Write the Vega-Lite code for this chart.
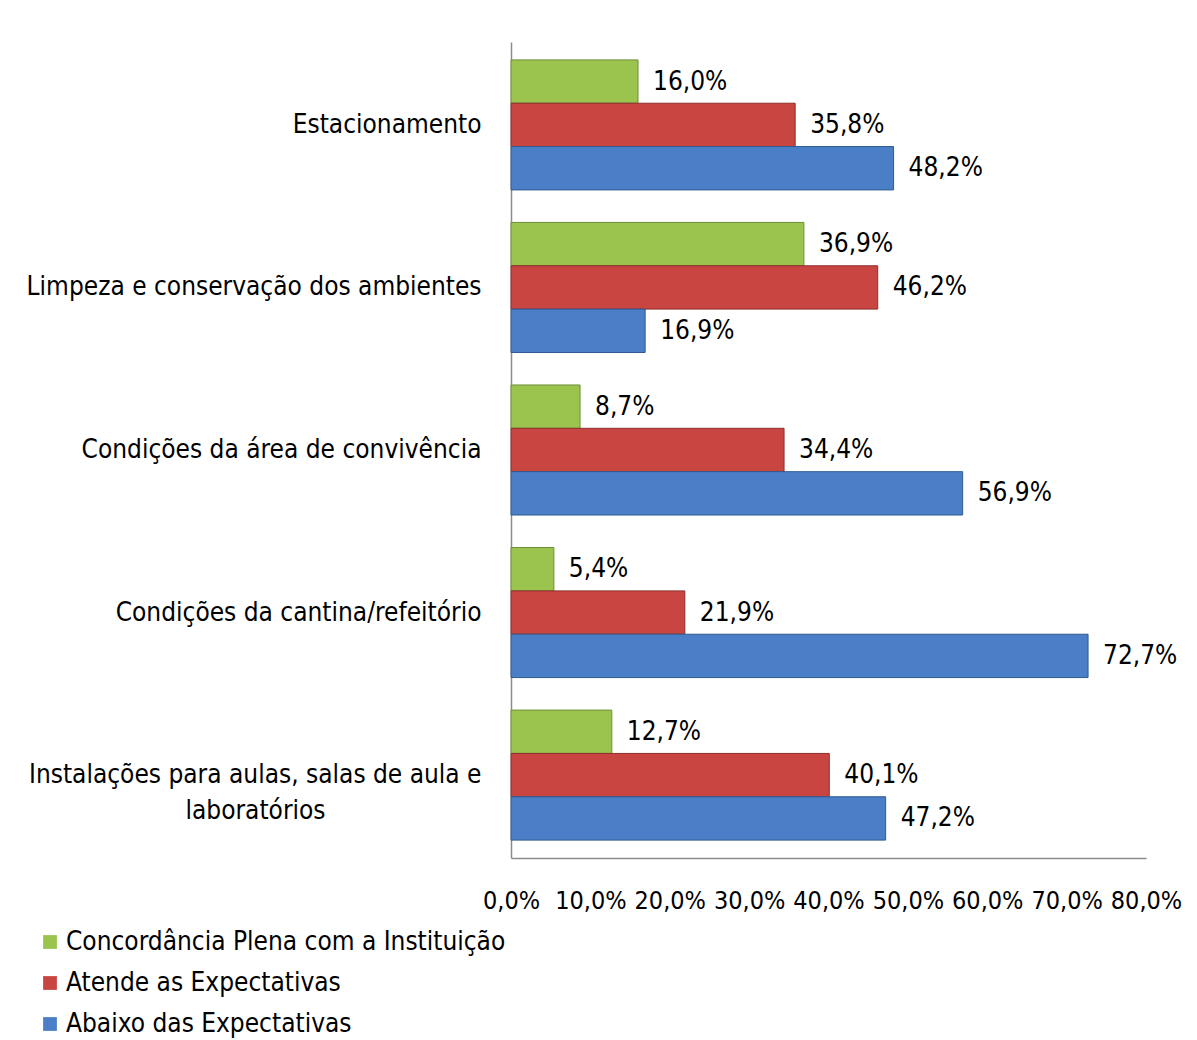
{
  "$schema": "https://vega.github.io/schema/vega-lite/v6.json",
  "width": 635,
  "height": 816,
  "autosize": {"type": "none"},
  "padding": {"left": 511, "top": 42, "right": 51, "bottom": 182},
  "background": "white",
  "config": {
    "locale": {"number": {"decimal": ",", "thousands": ".", "grouping": [3], "currency": ["R$", ""]}},
    "view": {"stroke": null},
    "axis": {"labelOverlap": false},
    "font": "Liberation Sans Narrow, DejaVu Sans Condensed, Arial Narrow, sans-serif"
  },
  "data": {
    "values": [
      {"categoria": "Estacionamento", "serie": "Concordância Plena com a Instituição", "valor": 0.160},
      {"categoria": "Estacionamento", "serie": "Atende as Expectativas", "valor": 0.358},
      {"categoria": "Estacionamento", "serie": "Abaixo das Expectativas", "valor": 0.482},
      {"categoria": "Limpeza e conservação dos ambientes", "serie": "Concordância Plena com a Instituição", "valor": 0.369},
      {"categoria": "Limpeza e conservação dos ambientes", "serie": "Atende as Expectativas", "valor": 0.462},
      {"categoria": "Limpeza e conservação dos ambientes", "serie": "Abaixo das Expectativas", "valor": 0.169},
      {"categoria": "Condições da área de convivência", "serie": "Concordância Plena com a Instituição", "valor": 0.087},
      {"categoria": "Condições da área de convivência", "serie": "Atende as Expectativas", "valor": 0.344},
      {"categoria": "Condições da área de convivência", "serie": "Abaixo das Expectativas", "valor": 0.569},
      {"categoria": "Condições da cantina/refeitório", "serie": "Concordância Plena com a Instituição", "valor": 0.054},
      {"categoria": "Condições da cantina/refeitório", "serie": "Atende as Expectativas", "valor": 0.219},
      {"categoria": "Condições da cantina/refeitório", "serie": "Abaixo das Expectativas", "valor": 0.727},
      {"categoria": "Instalações para aulas, salas de aula e laboratórios", "serie": "Concordância Plena com a Instituição", "valor": 0.127},
      {"categoria": "Instalações para aulas, salas de aula e laboratórios", "serie": "Atende as Expectativas", "valor": 0.401},
      {"categoria": "Instalações para aulas, salas de aula e laboratórios", "serie": "Abaixo das Expectativas", "valor": 0.472}
    ]
  },
  "encoding": {
    "y": {
      "field": "categoria",
      "type": "nominal",
      "sort": null,
      "scale": {"paddingInner": 0.2, "paddingOuter": 0.11},
      "axis": {
        "title": null,
        "ticks": false,
        "domainColor": "#8c8c8c",
        "domainWidth": 1.5,
        "labelFontSize": 26,
        "labelColor": "#000000",
        "labelPadding": 30,
        "labelLimit": 600,
        "labelExpr": "datum.value == 'Instalações para aulas, salas de aula e laboratórios' ? ['Instalações para aulas, salas de aula e', 'laboratórios\u00a0\u00a0\u00a0\u00a0\u00a0\u00a0\u00a0\u00a0\u00a0\u00a0\u00a0\u00a0\u00a0\u00a0\u00a0\u00a0\u00a0\u00a0\u00a0\u00a0\u00a0\u200b'] : datum.value",
        "labelLineHeight": 36
      }
    },
    "yOffset": {
      "field": "serie",
      "type": "nominal",
      "sort": ["Concordância Plena com a Instituição", "Atende as Expectativas", "Abaixo das Expectativas"],
      "scale": {"paddingInner": 0, "paddingOuter": 0}
    },
    "x": {
      "field": "valor",
      "type": "quantitative",
      "scale": {"domain": [0, 0.8], "nice": false},
      "axis": {
        "title": null,
        "format": ".1%",
        "values": [0, 0.1, 0.2, 0.3, 0.4, 0.5, 0.6, 0.7, 0.8],
        "grid": false,
        "ticks": false,
        "domainColor": "#8c8c8c",
        "domainWidth": 1.5,
        "labelFontSize": 25,
        "labelColor": "#000000",
        "labelPadding": 30,
        "labelFlush": false,
        "labelOverlap": false
      }
    }
  },
  "layer": [
    {
      "mark": {"type": "bar", "strokeWidth": 1},
      "encoding": {
        "color": {
          "field": "serie",
          "type": "nominal",
          "sort": ["Concordância Plena com a Instituição", "Atende as Expectativas", "Abaixo das Expectativas"],
          "scale": {
            "domain": ["Concordância Plena com a Instituição", "Atende as Expectativas", "Abaixo das Expectativas"],
            "range": ["#9BC44F", "#C94542", "#4A7FC8"]
          },
          "legend": {
            "title": null,
            "orient": "none",
            "legendX": -474,
            "legendY": 887,
            "symbolType": "square",
            "symbolSize": 190,
            "symbolStrokeWidth": 0,
            "labelFontSize": 26,
            "labelColor": "#000000",
            "labelLimit": 600,
            "rowPadding": 15,
            "labelOffset": 3
          }
        },
        "stroke": {
          "field": "serie",
          "type": "nominal",
          "scale": {
            "domain": ["Concordância Plena com a Instituição", "Atende as Expectativas", "Abaixo das Expectativas"],
            "range": ["#6E8E35", "#8E2E2C", "#2F5A8E"]
          },
          "legend": null
        }
      }
    },
    {
      "mark": {"type": "text", "align": "left", "baseline": "middle", "dx": 15, "fontSize": 26, "color": "#000000"},
      "encoding": {
        "text": {"field": "valor", "type": "quantitative", "format": ".1%"}
      }
    }
  ]
}
